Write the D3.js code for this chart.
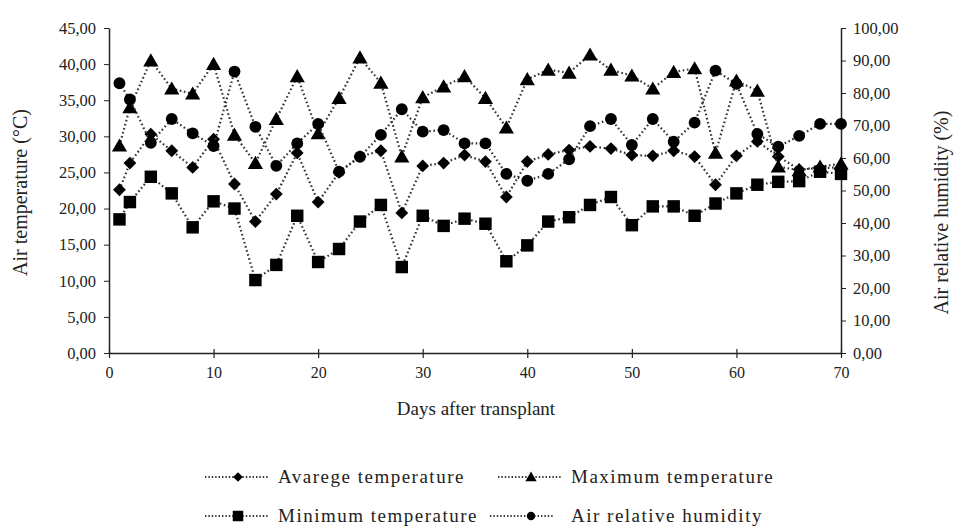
<!DOCTYPE html>
<html>
<head>
<meta charset="utf-8">
<script src="https://cdn.jsdelivr.net/npm/d3@7"></script>
<style>
  body { margin: 0; background: #fff; }
  svg text { font-family: "Liberation Serif", "Times New Roman", serif; fill: #222; }
  .axis path, .axis line { stroke: #222; }
</style>
</head>
<body>
<div id="chart"></div>
<script>
// data
let days = [1, 2, 4, 6, 8, 10, 12, 14, 16, 18, 20, 22, 24, 26, 28, 30, 32, 34, 36, 38,
            40, 42, 44, 46, 48, 50, 52, 54, 56, 58, 60, 62, 64, 66, 68, 70];

let avgTemp = [22.6, 26.3, 30.3, 28.0, 25.7, 29.6, 23.4, 18.2, 22.0, 27.7, 20.9, 25.0, 27.2, 28.0, 19.4, 25.9, 26.3, 27.4,
               26.5, 21.6, 26.5, 27.5, 28.1, 28.6, 28.3, 27.4, 27.3, 28.0, 27.2, 23.3, 27.3, 29.3, 27.2, 25.4, 25.6, 25.7];

let maxTemp = [28.7, 34.0, 40.5, 36.6, 35.9, 40.0, 30.2, 26.3, 32.4, 38.3, 30.4, 35.3, 40.9, 37.4, 27.2, 35.4, 36.9, 38.3,
               35.3, 31.2, 37.9, 39.2, 38.8, 41.3, 39.2, 38.4, 36.6, 38.9, 39.4, 27.7, 37.7, 36.3, 25.8, 25.3, 25.8, 26.2];

let minTemp = [18.5, 20.9, 24.4, 22.1, 17.4, 21.0, 20.0, 10.1, 12.2, 19.0, 12.6, 14.4, 18.2, 20.5, 11.9, 19.0, 17.6, 18.6,
               17.9, 12.7, 14.9, 18.2, 18.8, 20.5, 21.6, 17.7, 20.3, 20.3, 19.0, 20.7, 22.1, 23.3, 23.7, 23.8, 25.1, 24.8];

let humidity = [83.0, 78.0, 64.7, 72.0, 67.6, 63.7, 86.6, 69.6, 57.6, 64.5, 70.5, 55.8, 60.4, 67.1, 75.0, 68.1, 68.6, 64.5,
                64.5, 55.1, 53.0, 55.1, 59.6, 69.8, 72.0, 64.0, 72.0, 65.0, 70.9, 86.9, 82.8, 67.4, 63.5, 66.8, 70.5, 70.5];

let xTicks = [0, 10, 20, 30, 40, 50, 60, 70];
let leftTicks = [0, 5, 10, 15, 20, 25, 30, 35, 40, 45];
let rightTicks = [0, 10, 20, 30, 40, 50, 60, 70, 80, 90, 100];

let seriesNames = ["Avarege temperature", "Maximum temperature", "Minimum temperature", "Air relative humidity"];

let margin = {top: 28, right: 114, bottom: 173, left: 109};
let width = 955 - margin.left - margin.right;
let height = 526 - margin.top - margin.bottom;

let svg = d3.select("#chart").append("svg")
    .attr("width", 955)
    .attr("height", 526)
    .append("g")
    .attr("transform", "translate(" + margin.left + "," + margin.top + ")");

let x = d3.scaleLinear().domain([0, 70]).range([0, width]);
let yLeft = d3.scaleLinear().domain([0, 45]).range([height, 0]);
let yRight = d3.scaleLinear().domain([0, 100]).range([height, 0]);

let fmt = d => d3.format(".2f")(d).replace(".", ",");

// axes
let xAxis = svg.append("g")
    .attr("class", "axis")
    .attr("transform", `translate(0, ${height})`)
    .call(d3.axisBottom(x).tickValues(xTicks).tickSize(5).tickSizeOuter(0));
xAxis.selectAll(".tick line").attr("y1", -4).attr("stroke-width", 1.2);
xAxis.select(".domain").attr("stroke-width", 1.5);
xAxis.selectAll("text").attr("dy", "1.05em").style("font-size", "16px");

let yAxisL = svg.append("g")
    .attr("class", "axis")
    .call(d3.axisLeft(yLeft).tickValues(leftTicks).tickFormat(fmt).tickSize(5).tickSizeOuter(0));
yAxisL.select(".domain").attr("stroke-width", 1.5);
yAxisL.selectAll("text").attr("x", -13).style("font-size", "16.5px");

let yAxisR = svg.append("g")
    .attr("class", "axis")
    .attr("transform", `translate(${width}, 0)`)
    .call(d3.axisRight(yRight).tickValues(rightTicks).tickFormat(fmt).tickSize(5).tickSizeOuter(0));
yAxisR.select(".domain").attr("stroke-width", 1.5);
yAxisR.selectAll("text").attr("x", 12).style("font-size", "16.5px");

// axis titles
svg.append("text")
    .attr("transform", `translate(${-89}, ${height / 2 + 2}) rotate(-90)`)
    .attr("text-anchor", "middle")
    .attr("dy", "0.35em")
    .style("font-size", "20px")
    .text("Air temperature (°C)");

svg.append("text")
    .attr("transform", `translate(${width + 100}, ${height / 2 + 22}) rotate(-90)`)
    .attr("text-anchor", "middle")
    .attr("dy", "0.35em")
    .style("font-size", "20px")
    .text("Air relative humidity (%)");

svg.append("text")
    .attr("x", width / 2 + 1)
    .attr("y", height + 62)
    .attr("text-anchor", "middle")
    .style("font-size", "19px")
    .text("Days after transplant");

// series
let symbols = [
    d3.symbol().type(d3.symbolDiamond2).size(105),
    d3.symbol().type(d3.symbolTriangle).size(100),
    d3.symbol().type(d3.symbolSquare).size(155),
    d3.symbol().type(d3.symbolCircle).size(110)
];

let series = [
    {values: avgTemp, y: yLeft},
    {values: maxTemp, y: yLeft},
    {values: minTemp, y: yLeft},
    {values: humidity, y: yRight}
];

series.forEach((s, i) => {
    let pts = days.map((d, j) => [x(d), s.y(s.values[j])]);

    svg.append("path")
        .datum(pts)
        .attr("fill", "none")
        .attr("stroke", "#333")
        .attr("stroke-width", 2.2)
        .attr("stroke-dasharray", "1.6,2.6")
        .attr("d", d3.line());

    svg.selectAll(".mark-" + i)
        .data(pts)
        .enter().append("path")
        .attr("class", "mark-" + i)
        .attr("transform", d => `translate(${d[0]}, ${d[1] + (i == 1 ? 1.5 : 0)})`)
        .attr("d", symbols[i])
        .attr("fill", "#000");
});

// legend
let legendPos = [[96, 449], [389, 449], [96, 488], [381, 488]];

let legend = svg.selectAll(".legend")
    .data(seriesNames)
    .enter().append("g")
    .attr("class", "legend")
    .attr("transform", (d, i) => `translate(${legendPos[i][0]}, ${legendPos[i][1]})`);

legend.append("line")
    .attr("x1", 0).attr("x2", 64)
    .attr("stroke", "#333")
    .attr("stroke-width", 1.8)
    .attr("stroke-dasharray", "1.4,2");

legend.append("path")
    .attr("transform", (d, i) => `translate(${i == 3 ? 41 : 33}, ${i == 1 ? 1 : 0})`)
    .attr("d", (d, i) => d3.symbol().type(symbols[i].type()).size([60, 55, 110, 55][i])());

legend.append("text")
    .attr("x", (d, i) => i == 3 ? 81 : 73)
    .attr("dy", "0.33em")
    .style("font-size", "19px")
    .style("letter-spacing", "1.5px")
    .text(d => d);
</script>
</body>
</html>
